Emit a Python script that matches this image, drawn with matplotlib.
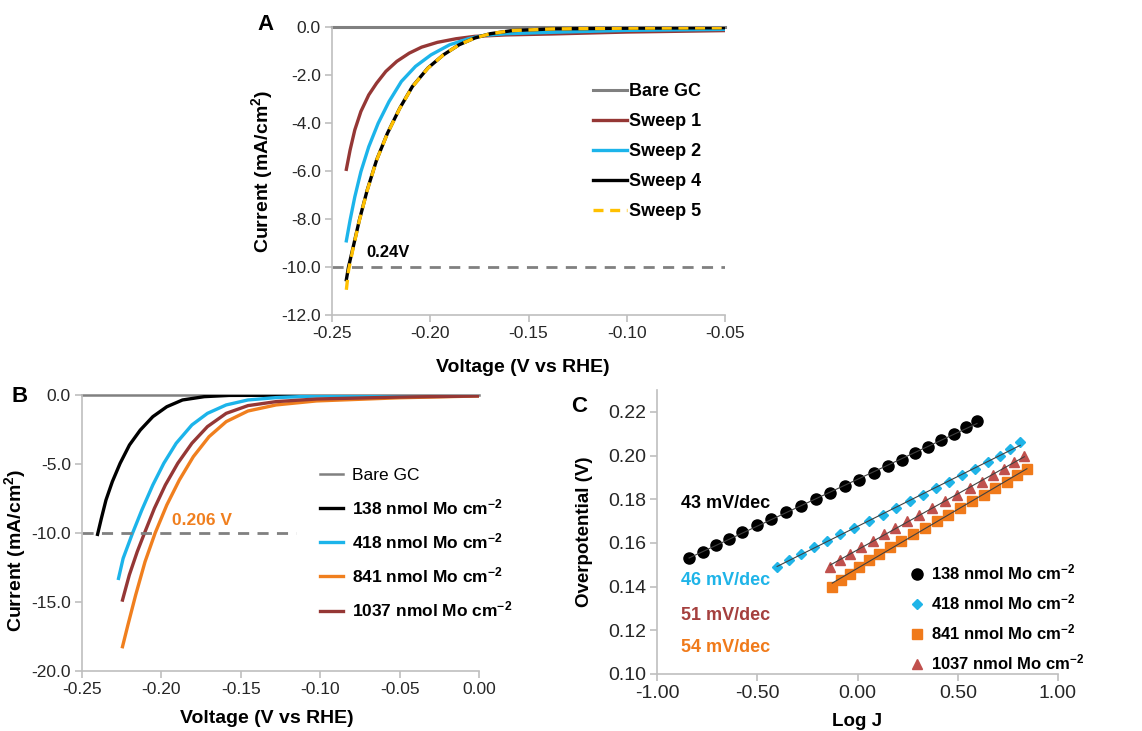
import numpy as np
import matplotlib
matplotlib.use("Agg")
import matplotlib.pyplot as plt
from matplotlib.ticker import FuncFormatter

plt.rcParams['font.family'] = ['Liberation Sans', 'DejaVu Sans']
plt.rcParams['axes.unicode_minus'] = False
plt.rcParams['mathtext.fontset'] = 'custom'
plt.rcParams['mathtext.rm'] = 'Liberation Sans'
plt.rcParams['mathtext.bf'] = 'Liberation Sans:bold'
plt.rcParams['mathtext.default'] = 'bf'

# ---- panel A : successive sweeps (voltage V vs RHE, current mA/cm2) ----
v_s1 = [-0.2427, -0.2408, -0.2384, -0.2353, -0.2313, -0.2273, -0.2226, -0.2170, -0.2107,
        -0.2044, -0.1964, -0.1869, -0.1774, -0.1616, -0.1378, -0.100, -0.050]
j_s1 = [-5.93, -5.13, -4.29, -3.52, -2.83, -2.34, -1.85, -1.43, -1.09,
        -0.84, -0.64, -0.49, -0.39, -0.33, -0.29, -0.21, -0.15]
v_s2 = [-0.2427, -0.2408, -0.2384, -0.2353, -0.2313, -0.2265, -0.2210, -0.2147, -0.2075,
        -0.1996, -0.1901, -0.1806, -0.1727, -0.1616, -0.1378, -0.100, -0.050]
j_s2 = [-8.91, -8.05, -7.08, -6.03, -4.99, -4.01, -3.11, -2.27, -1.64,
        -1.16, -0.74, -0.49, -0.35, -0.28, -0.22, -0.14, -0.10]
v_s4 = [-0.2427, -0.2416, -0.2392, -0.2361, -0.2321, -0.2273, -0.2218, -0.2155, -0.2091,
        -0.2012, -0.1933, -0.1853, -0.1774, -0.1695, -0.1584, -0.1378, -0.100, -0.050]
j_s4 = [-10.53, -10.0, -9.16, -8.05, -6.80, -5.54, -4.43, -3.38, -2.48,
        -1.71, -1.16, -0.74, -0.46, -0.28, -0.15, -0.08, -0.05, -0.03]
j_s5 = [-10.95, -10.15, -9.2, -8.07, -6.82, -5.55, -4.44, -3.39, -2.49,
        -1.72, -1.16, -0.74, -0.46, -0.28, -0.15, -0.08, -0.05, -0.03]

# ---- panel B : Mo loading series ----
v_138 = [-0.2402, -0.2378, -0.2349, -0.2309, -0.2260, -0.2201, -0.2133, -0.2054, -0.1966,
         -0.1867, -0.1730, -0.1573, -0.130, -0.080, 0.0]
j_138 = [-10.1, -8.94, -7.61, -6.28, -4.95, -3.62, -2.54, -1.57, -0.85,
         -0.36, -0.12, -0.03, -0.02, -0.02, -0.02]
v_418 = [-0.2270, -0.2241, -0.2182, -0.2123, -0.2054, -0.1985, -0.1907, -0.1808, -0.1710,
         -0.1592, -0.1455, -0.1278, -0.1023, -0.050, 0.0]
j_418 = [-13.29, -11.84, -10.02, -8.33, -6.52, -4.95, -3.50, -2.17, -1.33,
         -0.72, -0.36, -0.19, -0.07, -0.04, -0.03]
v_841 = [-0.2245, -0.2211, -0.2162, -0.2103, -0.2040, -0.1966, -0.1887, -0.1799, -0.1700,
         -0.1592, -0.1455, -0.1278, -0.1023, -0.050, 0.0]
j_841 = [-18.24, -16.67, -14.49, -12.08, -10.02, -7.97, -6.16, -4.47, -3.02,
         -1.93, -1.16, -0.72, -0.43, -0.20, -0.07]
v_1037 = [-0.2245, -0.2202, -0.2152, -0.2107, -0.2044, -0.1975, -0.1897, -0.1808, -0.1710,
          -0.1592, -0.1455, -0.1278, -0.1023, -0.050, 0.0]
j_1037 = [-14.86, -13.04, -11.35, -10.02, -8.21, -6.52, -4.95, -3.50, -2.29,
          -1.33, -0.77, -0.48, -0.29, -0.15, -0.07]

# ---- panel C : Tafel data (log J, overpotential V) ----
logj_138 = [-0.840, -0.772, -0.707, -0.641, -0.574, -0.501, -0.430, -0.355, -0.283, -0.207,
            -0.136, -0.062, 0.009, 0.081, 0.154, 0.224, 0.287, 0.353, 0.416, 0.480,
            0.541, 0.596]
eta_138 = [0.153, 0.156, 0.159, 0.162, 0.165, 0.168, 0.171, 0.174, 0.177, 0.180,
           0.183, 0.186, 0.189, 0.192, 0.195, 0.198, 0.201, 0.204, 0.207, 0.210,
           0.213, 0.216]
logj_418 = [-0.401, -0.343, -0.282, -0.219, -0.152, -0.086, -0.016, 0.056, 0.126, 0.194,
            0.260, 0.327, 0.392, 0.458, 0.523, 0.586, 0.649, 0.709, 0.759, 0.812]
eta_418 = [0.149, 0.152, 0.155, 0.158, 0.161, 0.164, 0.167, 0.170, 0.173, 0.176,
           0.179, 0.182, 0.185, 0.188, 0.191, 0.194, 0.197, 0.200, 0.203, 0.206]
logj_841 = [-0.126, -0.081, -0.039, 0.009, 0.057, 0.107, 0.164, 0.217, 0.277, 0.337,
            0.397, 0.450, 0.510, 0.573, 0.629, 0.687, 0.746, 0.796, 0.845]
eta_841 = [0.140, 0.143, 0.146, 0.149, 0.152, 0.155, 0.158, 0.161, 0.164, 0.167,
           0.170, 0.173, 0.176, 0.179, 0.182, 0.185, 0.188, 0.191, 0.194]
logj_1037 = [-0.136, -0.086, -0.036, 0.017, 0.076, 0.131, 0.189, 0.247, 0.308, 0.372,
             0.435, 0.496, 0.559, 0.619, 0.676, 0.729, 0.782, 0.832]
eta_1037 = [0.149, 0.152, 0.155, 0.158, 0.161, 0.164, 0.167, 0.170, 0.173, 0.176,
            0.179, 0.182, 0.185, 0.188, 0.191, 0.194, 0.197, 0.200]
slopes = ["43 mV/dec", "46 mV/dec", "51 mV/dec", "54 mV/dec"]

grey = '#808080'
spine_c = '#BFBFBF'
tick_c = '#262626'
W, H = 1142, 731


def fmt(nd):
    # Excel style labels: plain hyphen, no "-0.00"
    def f(x, pos):
        s = f"{x:.{nd}f}"
        if float(s) == 0:
            s = s.lstrip('-')
        return s
    return FuncFormatter(f)


def style(ax, fs):
    for s in ['top', 'right']:
        ax.spines[s].set_visible(False)
    for s in ['left', 'bottom']:
        ax.spines[s].set_color(spine_c)
        ax.spines[s].set_linewidth(1.2)
    ax.tick_params(direction='out', length=5, width=1.2, color=spine_c,
                   labelsize=fs, labelcolor=tick_c, pad=3)


fig = plt.figure(figsize=(11.42, 7.31), dpi=100)


def add_ax(x0, x1, y0, y1):
    return fig.add_axes([x0 / W, 1 - y1 / H, (x1 - x0) / W, (y1 - y0) / H])


# ---------------- A ----------------
axA = add_ax(332, 725, 27, 315)
style(axA, 12.5)
axA.plot([-0.25, -0.05], [0, 0], color=grey, lw=2.2, label='Bare GC', clip_on=False)
axA.plot(v_s1, j_s1, color='#953735', lw=2.4, label='Sweep 1')
axA.plot(v_s2, j_s2, color='#1CB4EA', lw=2.4, label='Sweep 2')
axA.plot(v_s4, j_s4, color='black', lw=2.4, label='Sweep 4')
axA.plot(v_s4, j_s5, color='#FFC000', lw=2.4, ls=(0, (3, 2)), label='Sweep 5')
axA.plot([-0.25, -0.05], [-10, -10], color=grey, lw=2, ls=(0, (4, 3)))
axA.set_xlim(-0.25, -0.05)
axA.set_ylim(-12, 0)
axA.set_xticks([-0.25, -0.20, -0.15, -0.10, -0.05])
axA.set_yticks(np.arange(-12, 0.1, 2))
axA.xaxis.set_major_formatter(fmt(2))
axA.yaxis.set_major_formatter(fmt(1))
axA.text(-0.2326, -9.4, '0.24V', fontsize=12, fontweight='bold', va='center', ha='left')
axA.set_xlabel('Voltage (V vs RHE)', fontsize=14, fontweight='bold')
axA.set_ylabel('Current (mA/cm$^2$)', fontsize=14, fontweight='bold')
axA.xaxis.set_label_coords(0.486, -0.153)
axA.yaxis.set_label_coords(-0.145, 0.497)
axA.legend(loc='upper left', bbox_to_anchor=(593 / W, 1 - 83 / H), bbox_transform=fig.transFigure,
           frameon=False, prop={'weight': 'bold', 'size': 13}, handlelength=1.9,
           handletextpad=0.1, labelspacing=0.72, borderpad=0, borderaxespad=0)
fig.text(265 / W, 1 - 25 / H, 'A', fontsize=16, fontweight='bold', ha='center', va='center')

# ---------------- B ----------------
axB = add_ax(82, 479, 395, 671)
style(axB, 12.5)
axB.plot([-0.25, 0.0], [0, 0], color=grey, lw=1.8, label='Bare GC', clip_on=False)
axB.plot(v_138, j_138, color='black', lw=2.4, label='138 nmol Mo cm$^{-2}$')
axB.plot(v_418, j_418, color='#1CB4EA', lw=2.4, label='418 nmol Mo cm$^{-2}$')
axB.plot(v_841, j_841, color='#F07F1E', lw=2.4, label='841 nmol Mo cm$^{-2}$')
axB.plot(v_1037, j_1037, color='#953735', lw=2.4, label='1037 nmol Mo cm$^{-2}$')
axB.plot([-0.25, -0.115], [-10, -10], color=grey, lw=2, ls=(0, (4, 3)))
axB.set_xlim(-0.25, 0.0)
axB.set_ylim(-20, 0)
axB.set_xticks(np.arange(-0.25, 0.01, 0.05))
axB.set_yticks(np.arange(-20, 0.1, 5))
axB.xaxis.set_major_formatter(fmt(2))
axB.yaxis.set_major_formatter(fmt(1))
axB.text(-0.1936, -9.06, '0.206 V', fontsize=12.5, fontweight='bold', color='#F07F1E',
         va='center', ha='left')
axB.set_xlabel('Voltage (V vs RHE)', fontsize=14, fontweight='bold')
axB.set_ylabel('Current (mA/cm$^2$)', fontsize=14, fontweight='bold')
axB.xaxis.set_label_coords(0.466, -0.141)
axB.yaxis.set_label_coords(-0.136, 0.438)
legB = axB.legend(loc='upper left', bbox_to_anchor=(320 / W, 1 - 468 / H),
                  bbox_transform=fig.transFigure, frameon=False,
                  prop={'weight': 'bold', 'size': 12.5}, handlelength=1.35,
                  handletextpad=0.5, labelspacing=0.82, borderpad=0, borderaxespad=0)
legB.get_texts()[0].set_fontweight('normal')
fig.text(20 / W, 1 - 397 / H, 'B', fontsize=16, fontweight='bold', ha='center', va='center')

# ---------------- C ----------------
axC = add_ax(657, 1058, 390, 674)
style(axC, 14)
series_c = [
    (logj_138, eta_138, 'o', 'black', 8, '138 nmol Mo cm$^{-2}$'),
    (logj_418, eta_418, 'D', '#1FB4E8', 5.5, '418 nmol Mo cm$^{-2}$'),
    (logj_841, eta_841, 's', '#F07A1A', 7, '841 nmol Mo cm$^{-2}$'),
    (logj_1037, eta_1037, '^', '#C0504D', 7, '1037 nmol Mo cm$^{-2}$'),
]
for xs, ys, m, c, ms, lab in series_c:
    axC.plot(xs, ys, ls='none', marker=m, color=c, ms=ms, label=lab, zorder=3)
for xs, ys, m, c, ms, lab in series_c:
    k, b = np.polyfit(xs, ys, 1)
    xx = np.array([min(xs), max(xs)])
    axC.plot(xx, k * xx + b, color='#404040', lw=0.8, zorder=4)
axC.set_xlim(-1.0, 1.0)
axC.set_ylim(0.10, 0.23)
axC.set_xticks(np.arange(-1.0, 1.01, 0.5))
axC.set_yticks(np.arange(0.10, 0.221, 0.02))
axC.xaxis.set_major_formatter(fmt(2))
axC.yaxis.set_major_formatter(fmt(2))
slope_cols = ['black', '#1FB4E8', '#A5403E', '#F07A1A']
slope_y = [0.178, 0.143, 0.127, 0.112]
for t, c, y in zip(slopes, slope_cols, slope_y):
    axC.text(-0.88, y, t, color=c, fontsize=13, fontweight='bold', va='center', ha='left')
axC.set_xlabel('Log J', fontsize=13.5, fontweight='bold')
axC.set_ylabel('Overpotential (V)', fontsize=13.5, fontweight='bold')
axC.xaxis.set_label_coords(0.499, -0.136)
axC.yaxis.set_label_coords(-0.160, 0.5)
axC.legend(loc='upper left', bbox_to_anchor=(909 / W, 1 - 563 / H), bbox_transform=fig.transFigure,
           frameon=False, prop={'weight': 'bold', 'size': 12}, handlelength=1.0,
           handletextpad=0.3, labelspacing=0.6, borderpad=0, borderaxespad=0, numpoints=1)
fig.text(579 / W, 1 - 406 / H, 'C', fontsize=16, fontweight='bold', ha='center', va='center')

fig.savefig('out.png', dpi=100)
